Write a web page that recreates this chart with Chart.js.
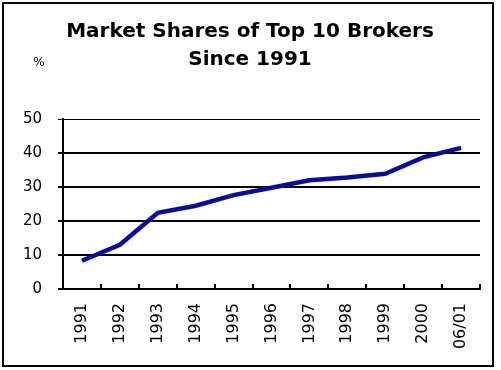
<!DOCTYPE html>
<html>
<head>
<meta charset="utf-8">
<script src="https://cdn.jsdelivr.net/npm/chart.js@4/dist/chart.umd.min.js"></script>
<style>
  html, body { margin: 0; padding: 0; background: #fff; }
  #wrap { position: relative; width: 501px; height: 370px; }
  #frame { position: absolute; left: 2px; top: 2px; width: 492px; height: 365px; box-sizing: border-box; border: 2px solid #000; pointer-events: none; }
</style>
</head>
<body>
<div id="wrap">
  <canvas id="c" width="501" height="370"></canvas>
  <div id="frame"></div>
</div>
<script>
const categories = ['1991', '1992', '1993', '1994', '1995', '1996', '1997', '1998', '1999', '2000', '06/01'];
const marketShare = [8.3, 13.0, 22.4, 24.5, 27.6, 29.8, 32.0, 32.8, 33.9, 38.7, 41.5];
const yTicks = [0, 10, 20, 30, 40, 50];
const titleLines = ['Market Shares of Top 10 Brokers', 'Since 1991'];
const unitLabel = '%';

const FONT = "'DejaVu Sans', 'Liberation Sans', Arial, sans-serif";

const extras = {
  id: 'extras',
  afterDraw(chart) {
    const ctx = chart.ctx;
    const x = chart.scales.x;
    const area = chart.chartArea;
    ctx.save();
    ctx.strokeStyle = '#000';
    ctx.lineWidth = 2;
    for (let i = 1; i <= categories.length; i++) {
      const px = Math.round(x.getPixelForValue(i - 0.5));
      ctx.beginPath();
      ctx.moveTo(px, area.bottom - 5);
      ctx.lineTo(px, area.bottom);
      ctx.stroke();
    }
    ctx.fillStyle = '#000';
    ctx.textAlign = 'center';
    ctx.textBaseline = 'middle';
    ctx.font = 'bold 20px ' + FONT;
    titleLines.forEach((t, i) => ctx.fillText(t, 250, 32 + i * 28));
    ctx.font = '12px ' + FONT;
    ctx.fillText(unitLabel, area.left - 24, area.top - 56);
    ctx.restore();
  }
};

new Chart(document.getElementById('c'), {
  type: 'line',
  data: {
    labels: categories,
    datasets: [{
      data: marketShare,
      borderColor: '#0c0c96',
      borderWidth: 4.5,
      pointRadius: 0,
      tension: 0,
      fill: false
    }]
  },
  options: {
    responsive: false,
    animation: false,
    layout: { padding: { left: 0, right: 21, top: 119, bottom: 0 } },
    plugins: {
      legend: { display: false },
      tooltip: { enabled: false },
      title: { display: false }
    },
    scales: {
      x: {
        type: 'category',
        offset: true,
        grid: { display: false, drawTicks: false },
        border: { display: true, color: '#000', width: 2 },
        ticks: {
          color: '#000',
          font: { family: FONT, size: 16 },
          minRotation: 90,
          maxRotation: 90,
          padding: 14,
          autoSkip: false
        },
        afterFit(scale) { scale.height = 81; }
      },
      y: {
        min: 0,
        max: 50,
        afterBuildTicks(scale) { scale.ticks = yTicks.map(v => ({ value: v })); },
        grid: {
          color: '#000',
          lineWidth: (c) => (c.tick && c.tick.value === 50 ? 1 : 2),
          tickLength: 5,
          tickColor: '#000',
          tickWidth: (c) => (c.tick && c.tick.value === 50 ? 1 : 2)
        },
        border: { display: true, color: '#000', width: 2 },
        ticks: {
          color: '#000',
          font: { family: FONT, size: 15 },
          padding: 16
        },
        afterFit(scale) { scale.width = 63; }
      }
    }
  },
  plugins: [extras]
});
</script>
</body>
</html>
